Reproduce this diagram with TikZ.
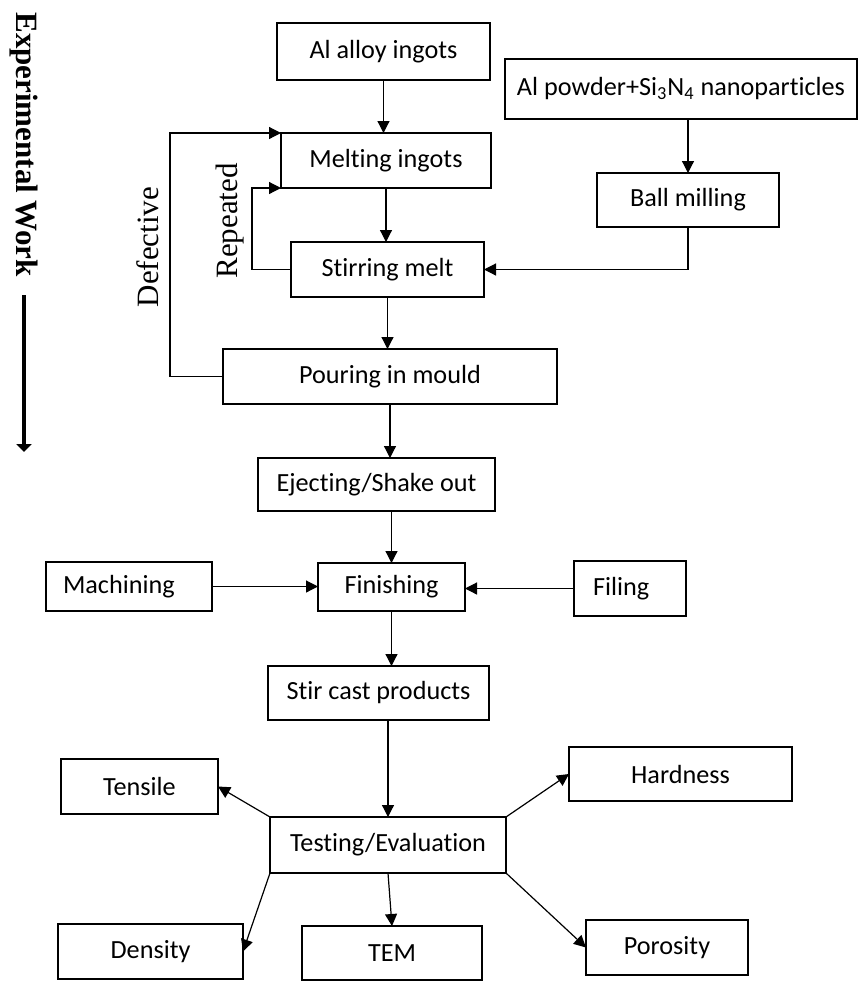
\documentclass[tikz,border=0pt]{standalone}
\usepackage{fontspec}
\setmainfont{Liberation Serif}
\newfontfamily\boxfont[Ligatures=NoCommon]{Carlito}
\usepackage{tikz}
\usetikzlibrary{positioning,arrows.meta}
\tikzstyle{block} = [rectangle, draw=black, line width=0.6pt, inner sep=0pt, outer sep=0pt, text centered, font=\boxfont\fontsize{13.1}{15}\selectfont]
\tikzstyle{arrow} = [line width=0.6pt,-{Triangle[length=6pt,width=6pt]}]
\tikzstyle{sidetext} = [inner sep=0pt, font=\fontsize{15.5}{18}\selectfont]

\begin{document}
\begin{tikzpicture}[x=0.5pt,y=-0.5pt,node distance=26.5pt]
\useasboundingbox (0,0) rectangle (858,981);

% main route
\node (alloy) [block, minimum width=106.5pt, minimum height=28.5pt] at (383.5,51.5) {Al alloy ingots};
\node (melt) [block, minimum width=105pt, minimum height=27.5pt, below=26.5pt of alloy, xshift=1.25pt] {Melting ingots};
\node (stir) [block, minimum width=96.5pt, minimum height=27.5pt, below=27pt of melt, xshift=0.75pt] {Stirring melt};
\node (pour) [block, minimum width=167pt, minimum height=27.5pt, below=26pt of stir, xshift=1.25pt] {Pouring in mould};
\node (eject) [block, minimum width=118.5pt, minimum height=26.5pt, below=27pt of pour, xshift=-6.75pt] {Ejecting/Shake out};
\node (finish) [block, minimum width=73.5pt, minimum height=24pt, below=26pt of eject, xshift=7.5pt] {Finishing};
\node (stircast) [block, minimum width=110.5pt, minimum height=27pt, below=27.5pt of finish, xshift=-6.5pt] {Stir cast products};
\node (test) [block, minimum width=118pt, minimum height=28pt, below=48.5pt of stircast, xshift=4.75pt] {Testing/Evaluation};

% side inputs
\node (powder) [block, minimum width=176pt, minimum height=30pt] at (681,89) {Al powder+Si\textsubscript{3}N\textsubscript{4} nanoparticles};
\node (ball) [block, minimum width=91pt, minimum height=27pt, below=27pt of powder, xshift=3.5pt] {Ball milling};
\node (mach) [block, minimum height=24.5pt, text width=66pt, inner xsep=8.5pt, align=left, left=53pt of finish, yshift=0.25pt] {Machining};
\node (filing) [block, minimum height=27.5pt, text width=37pt, inner xsep=9.5pt, align=left, right=54.5pt of finish, yshift=-0.75pt] {Filing};

% tests
\node (tensile) [block, minimum width=78.5pt, minimum height=27.5pt] at (139.5,786.5) {Tensile};
\node (hard) [block, minimum width=111.5pt, minimum height=27pt] at (680.5,774) {Hardness};
\node (dens) [block, minimum width=92.5pt, minimum height=27.5pt] at (150.5,951.5) {Density};
\node (tem) [block, minimum width=90pt, minimum height=27pt, below=26.5pt of test, xshift=2pt] {TEM};
\node (poro) [block, minimum width=81pt, minimum height=27.5pt] at (667,947.5) {Porosity};

% labels
\node (defect) [sidetext, rotate=90] at (148,247) {Defective};
\node (repeat) [sidetext, rotate=90] at (230,221) {Repeated};
\node (work) [sidetext, rotate=-90, font=\bfseries\fontsize{15.5}{18}\selectfont] at (24,144.5) {Experimental Work};
\coordinate (worktop) at (24,295);
\coordinate (workend) at (24,452);

\draw[arrow] (alloy.south) -- (alloy.south |- melt.north);
\draw[arrow] (melt.south) -- (melt.south |- stir.north);
\draw[arrow] (stir.south) -- (stir.south |- pour.north);
\draw[arrow] (pour.south) -- (pour.south |- eject.north);
\draw[arrow] (eject.south -| finish.north) -- (finish.north);
\draw[arrow] (finish.south) -- (finish.south |- stircast.north);
\draw[arrow] (stircast.south -| test.north) -- (test.north);

\draw[arrow] (powder.south -| ball.north) -- (ball.north);
\draw[arrow] (ball.south) |- (stir.east);
\draw[arrow] (mach.east) -- (mach.east -| finish.west);
\draw[arrow] (filing.west) -- (filing.west -| finish.east);

\draw[arrow] (stir.west) -- ++(-19.5pt,0) |- (melt.south west);
\draw[arrow] (pour.west) -- ++(-26.5pt,0) |- (melt.north west);

\draw[arrow] (test.north west) -- (tensile.east);
\draw[arrow] (test.north east) -- (hard.west);
\draw[arrow] (test.south west) -- (dens.east);
\draw[arrow] (test.south) -- (tem.north);
\draw[arrow] (test.south east) -- (poro.west);

\draw[line width=2.4pt,-{Triangle[length=4pt,width=7.5pt]}] (worktop) -- (workend);
\end{tikzpicture}
\end{document}
